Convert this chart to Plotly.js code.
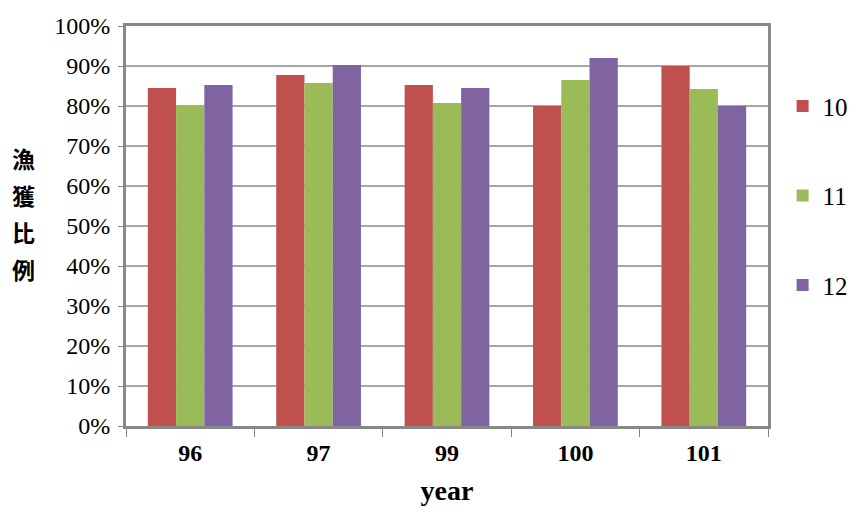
<!DOCTYPE html>
<html>
<head>
<meta charset="utf-8">
<script src="https://cdn.plot.ly/plotly-3.0.1.min.js"></script>
<style>
  body { margin: 0; background: #fff; }
  #chart { width: 860px; height: 520px; }
</style>
</head>
<body>
<div id="chart"></div>
<script>
// values (fraction of catch)
var years = ['96', '97', '99', '100', '101'];
var seriesNames = ['10', '11', '12'];
var month10 = [0.845, 0.8775, 0.8525, 0.80, 0.90];
var month11 = [0.80, 0.8575, 0.8075, 0.865, 0.8425];
var month12 = [0.8525, 0.9025, 0.845, 0.92, 0.80];
var yTicks = [0, 0.1, 0.2, 0.3, 0.4, 0.5, 0.6, 0.7, 0.8, 0.9, 1.0];
var yTickText = ['0%', '10%', '20%', '30%', '40%', '50%', '60%', '70%', '80%', '90%', '100%'];
var yTitleChars = ['漁', '獲', '比', '例'];

var colors = ['#C0504D', '#9BBB59', '#8064A2'];
var serif = 'Liberation Serif';

function makeBar(values, i) {
  return {
    type: 'bar',
    x: years,
    y: values,
    name: seriesNames[i],
    legendgroup: 'g' + i,
    marker: {color: colors[i], line: {width: 0}},
    hoverinfo: 'x+y'
  };
}

var data = [makeBar(month10, 0), makeBar(month11, 1), makeBar(month12, 2)];

// vertical axis title, one character per annotation
var titleNotes = yTitleChars.map(function (ch, i) {
  return {
    xref: 'paper', yref: 'paper',
    x: -0.16, y: 0.67 - i * 0.0925,
    xanchor: 'center', yanchor: 'middle',
    showarrow: false,
    borderpad: 0,
    text: '<b>' + ch + '</b>',
    font: {family: 'Noto Sans CJK TC', size: 23, color: '#000'}
  };
});

var layout = {
  width: 860,
  height: 520,
  margin: {l: 126, r: 92, t: 26, b: 94, pad: 0},
  paper_bgcolor: '#fff',
  plot_bgcolor: '#fff',
  barmode: 'group',
  bargap: 0.34,
  bargroupgap: 0,
  font: {family: serif, color: '#000', size: 22},
  xaxis: {
    type: 'category',
    tickson: 'boundaries',
    ticks: 'outside',
    ticklen: 8,
    tickwidth: 1,
    tickcolor: '#888',
    showline: true,
    linecolor: '#888',
    linewidth: 3,
    mirror: true,
    showgrid: false,
    tickfont: {family: serif, size: 24, weight: 'bold'},
    ticklabelstandoff: 3,
    title: {text: '<b>year</b>', font: {family: serif, size: 28}, standoff: 16}
  },
  yaxis: {
    range: [0, 1],
    tickvals: yTicks,
    ticktext: yTickText,
    ticks: 'outside',
    ticklen: 5,
    tickwidth: 1,
    tickcolor: '#888',
    showline: true,
    linecolor: '#888',
    linewidth: 3,
    mirror: true,
    showgrid: true,
    gridcolor: '#a6a6a6',
    gridwidth: 2,
    zeroline: false,
    tickfont: {family: serif, size: 24},
    ticklabelstandoff: 3
  },
  legend: {
    xref: 'container', yref: 'container',
    x: 0.91,
    y: 0.84,
    xanchor: 'left',
    yanchor: 'top',
    tracegroupgap: 54,
    itemwidth: 30,
    font: {family: serif, size: 25},
    bgcolor: 'rgba(0,0,0,0)'
  },
  annotations: titleNotes
};

Plotly.newPlot('chart', data, layout, {displayModeBar: false, staticPlot: true});
</script>
</body>
</html>
